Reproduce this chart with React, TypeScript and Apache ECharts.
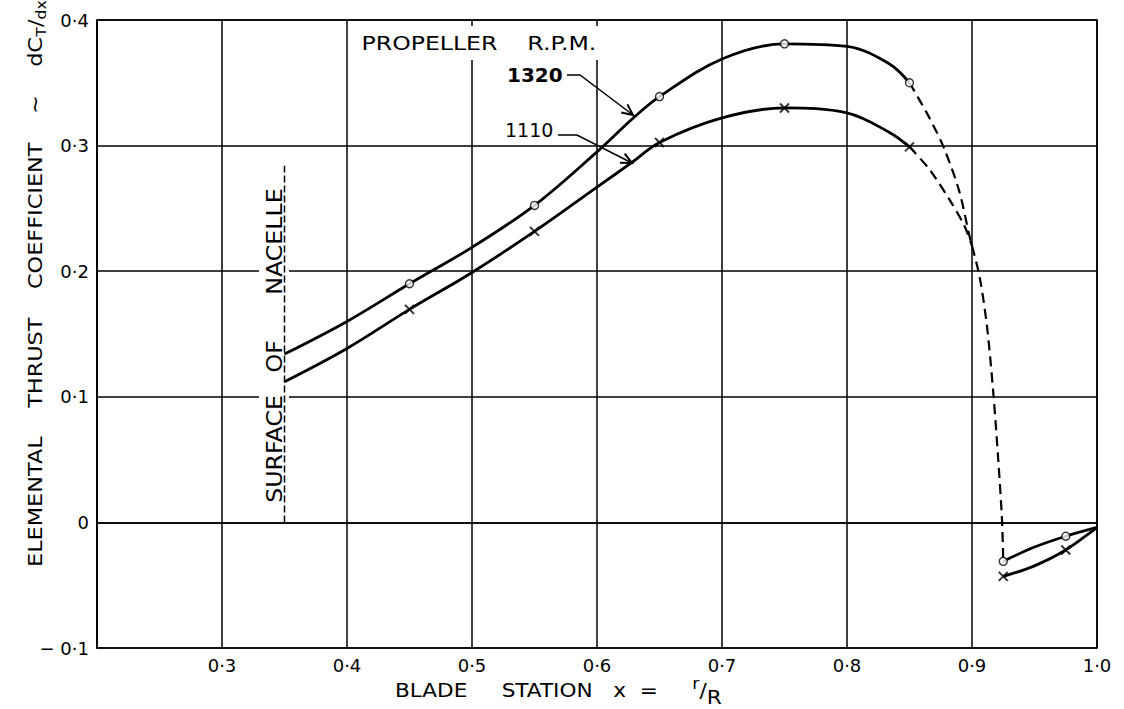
import React, { useEffect, useRef } from "react";
import * as echarts from "echarts";

// Blade station x = r/R against elemental thrust coefficient dCT/dx
// Traced curve ordinates for each propeller speed (solid portions)
const rpm1320Solid: [number, number][] = [
  [0.35, 0.134], [0.4, 0.16], [0.45, 0.19], [0.5, 0.219], [0.55, 0.2524],
  [0.6, 0.295], [0.629, 0.322], [0.65, 0.339], [0.7, 0.369], [0.75, 0.381],
  [0.8, 0.379], [0.834, 0.365], [0.85, 0.35],
];
const rpm1110Solid: [number, number][] = [
  [0.35, 0.112], [0.4, 0.1385], [0.45, 0.1696], [0.5, 0.199], [0.55, 0.2317],
  [0.6, 0.267], [0.628, 0.2866], [0.65, 0.3025], [0.7, 0.322], [0.75, 0.33],
  [0.8, 0.326], [0.834, 0.3105], [0.85, 0.299],
];
// Faired (dashed) portions towards the tip
const rpm1320Dashed: [number, number][] = [
  [0.85, 0.35], [0.866, 0.322], [0.878, 0.297], [0.89, 0.263], [0.898, 0.228],
  [0.906, 0.196], [0.912, 0.156], [0.917, 0.1035], [0.921, 0.05], [0.924, 0.002],
  [0.925, -0.031],
];
const rpm1110Dashed: [number, number][] = [
  [0.85, 0.299], [0.866, 0.281], [0.882, 0.257], [0.894, 0.236], [0.9, 0.22],
];
// Tip region
const rpm1320Tip: [number, number][] = [[0.925, -0.031], [0.949, -0.02], [0.975, -0.011], [1.0, -0.004]];
const rpm1110Tip: [number, number][] = [[0.925, -0.043], [0.949, -0.035], [0.975, -0.022], [1.0, -0.004]];

// Measured test points
const points1320: [number, number][] = [
  [0.45, 0.19], [0.55, 0.2524], [0.65, 0.339], [0.75, 0.381], [0.85, 0.35], [0.925, -0.031], [0.975, -0.011],
];
const points1110: [number, number][] = [
  [0.45, 0.1696], [0.55, 0.2317], [0.65, 0.3025], [0.75, 0.33], [0.85, 0.299], [0.925, -0.043], [0.975, -0.022],
];

// Surface of nacelle marker line
const nacelleLine: [number, number][] = [[0.35, 0], [0.35, 0.284]];

// Axis extents
const xRange = [0.2, 1.0];
const yRange = [-0.1, 0.4];
const tickStep = 0.1;

const FONT = "DejaVu Sans";

function tickLabel(v: number): string {
  if (Math.abs(v) < 1e-9) return "0";
  const s = Math.abs(v).toFixed(1).replace(".", "·");
  return v < 0 ? "− " + s : s;
}

// Leader line with an open arrow head at its last point
function leader(pts: number[][], len = 12, spread = 0.44) {
  const [x1, y1] = pts[pts.length - 2];
  const [x2, y2] = pts[pts.length - 1];
  const a = Math.atan2(y2 - y1, x2 - x1) + Math.PI;
  const b1 = [x2 + len * Math.cos(a + spread), y2 + len * Math.sin(a + spread)];
  const b2 = [x2 + len * Math.cos(a - spread), y2 + len * Math.sin(a - spread)];
  return [
    { type: "polyline", z: 1, shape: { points: pts }, style: { stroke: "#000", lineWidth: 1.5, fill: null } },
    { type: "polyline", z: 1, shape: { points: [b1, [x2, y2], b2] }, style: { stroke: "#000", lineWidth: 2, fill: null } },
  ];
}

const lineBase = { type: "line", symbol: "none", silent: true, z: 3 };

export default function App() {
  const ref = useRef<HTMLDivElement>(null);

  useEffect(() => {
    if (!ref.current) return;
    const chart = echarts.init(ref.current, undefined, { renderer: "svg" });

    const axisCommon = {
      type: "value",
      interval: tickStep,
      axisLine: { show: true, lineStyle: { color: "#000", width: 1.5 } },
      axisTick: { show: false },
      splitLine: { show: true, lineStyle: { color: "#000", width: 1.5 } },
    };

    chart.setOption({
      animation: false,
      backgroundColor: "#fff",
      grid: { left: 97, right: 27, top: 20, bottom: 61, show: true, borderColor: "#000", borderWidth: 1.5 },
      xAxis: {
        ...axisCommon,
        min: xRange[0],
        max: xRange[1],
        axisLabel: {
          margin: 8,
          color: "#000",
          fontFamily: FONT,
          fontSize: 18,
          formatter: (v: number) => (Math.abs(v - xRange[0]) < 1e-9 ? "" : tickLabel(v)),
        },
      },
      yAxis: {
        ...axisCommon,
        min: yRange[0],
        max: yRange[1],
        axisLabel: { margin: 8, color: "#000", fontFamily: FONT, fontSize: 18, formatter: tickLabel },
      },
      series: [
        { ...lineBase, name: "1320 r.p.m.", data: rpm1320Solid, smooth: 0.35, lineStyle: { color: "#000", width: 2.8 } },
        { ...lineBase, name: "1110 r.p.m.", data: rpm1110Solid, smooth: 0.35, lineStyle: { color: "#000", width: 2.8 } },
        { ...lineBase, data: rpm1320Dashed, smooth: 0.3, lineStyle: { color: "#000", width: 2.2, type: [10, 6] } },
        { ...lineBase, data: rpm1110Dashed, smooth: 0.3, lineStyle: { color: "#000", width: 2.2, type: [10, 6] } },
        { ...lineBase, data: rpm1320Tip, smooth: 0.3, lineStyle: { color: "#000", width: 2.8 } },
        { ...lineBase, data: rpm1110Tip, smooth: 0.3, lineStyle: { color: "#000", width: 2.8 } },
        { ...lineBase, data: nacelleLine, lineStyle: { color: "#000", width: 1.5, type: [7, 3] } },
        {
          type: "scatter",
          silent: true,
          z: 5,
          data: points1320,
          symbol: "circle",
          symbolSize: 8,
          itemStyle: { color: "#fff", borderColor: "#000", borderWidth: 1.4 },
        },
        {
          type: "scatter",
          silent: true,
          z: 5,
          data: points1110,
          symbol: "path://M0 0L10 10M10 0L0 10",
          symbolSize: 9,
          itemStyle: { color: "none", borderColor: "#000", borderWidth: 2 },
        },
      ],
      graphic: [
        {
          type: "text",
          z: 1,
          x: 35,
          y: 567,
          rotation: Math.PI / 2,
          scaleX: 1.12,
          style: {
            text: "{m|ELEMENTAL    THRUST    COEFFICIENT    ~    dC}{s|T}{m|/}{s|dx}",
            align: "left",
            verticalAlign: "middle",
            fill: "#000",
            rich: {
              m: { fontFamily: FONT, fontSize: 20, fill: "#000" },
              s: { fontFamily: FONT, fontSize: 14, fill: "#000", padding: [12, 0, 0, 0] },
            },
          },
        },
        {
          type: "text",
          z: 1,
          x: 395,
          y: 690,
          scaleX: 1.08,
          style: {
            text: "{m|BLADE     STATION   x  =     }{p|r}{m|/}{s|R}",
            align: "left",
            verticalAlign: "middle",
            fill: "#000",
            rich: {
              m: { fontFamily: FONT, fontSize: 20, fill: "#000" },
              p: { fontFamily: FONT, fontSize: 16, fill: "#000", padding: [0, 0, 12, 0] },
              s: { fontFamily: FONT, fontSize: 20, fill: "#000", padding: [14, 0, 0, 0] },
            },
          },
        },
        {
          type: "text",
          z: 1,
          x: 358,
          y: 43,
          scaleX: 1.18,
          style: {
            text: "PROPELLER    R.P.M.",
            fontFamily: FONT,
            fontSize: 20,
            fill: "#000",
            align: "left",
            verticalAlign: "middle",
            backgroundColor: "#fff",
            padding: [6, 3, 8, 3],
          },
        },
        {
          type: "text",
          z: 1,
          x: 507,
          y: 75,
          style: { text: "1320", fontFamily: FONT, fontSize: 20, fontWeight: "bold", fill: "#000", align: "left", verticalAlign: "middle" },
        },
        {
          type: "text",
          z: 1,
          x: 505,
          y: 130,
          style: { text: "1110", fontFamily: FONT, fontSize: 19, fill: "#000", align: "left", verticalAlign: "middle" },
        },
        ...leader([[567, 75], [580, 75], [633, 115]]),
        ...leader([[558, 135], [577, 135], [632, 163]]),
        {
          type: "text",
          z: 1,
          x: 274,
          y: 505,
          rotation: Math.PI / 2,
          scaleX: 1.08,
          style: {
            text: "SURFACE   OF      NACELLE",
            fontFamily: FONT,
            fontSize: 22,
            fill: "#000",
            align: "left",
            verticalAlign: "middle",
            backgroundColor: "#fff",
            padding: [8, 2, 0, 2],
          },
        },
      ],
    });

    return () => chart.dispose();
  }, []);

  return <div ref={ref} style={{ position: "absolute", left: 0, top: 0, width: 1124, height: 709 }} />;
}
